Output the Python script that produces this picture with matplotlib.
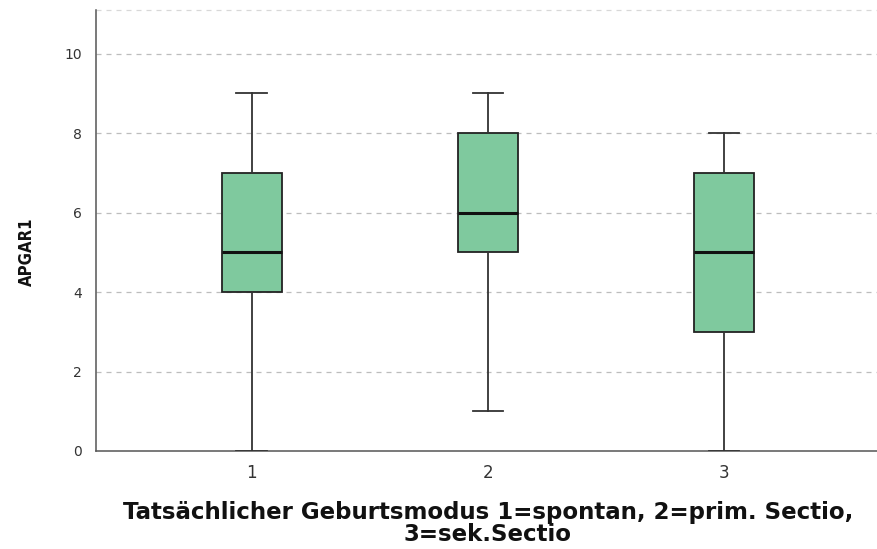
import matplotlib
matplotlib.use("Agg")
import matplotlib.pyplot as plt

# Apgar score (1 min) by delivery mode
groups = ["1", "2", "3"]
whislo = [0, 1, 0]
q1 = [4, 5, 3]
med = [5, 6, 5]
q3 = [7, 8, 7]
whishi = [9, 9, 8]
y_ticks = [0, 2, 4, 6, 8, 10]

plt.rcParams["font.family"] = ["Liberation Sans", "DejaVu Sans"]

fig = plt.figure(figsize=(8.78, 5.49), dpi=100)
ax = fig.add_axes([96 / 878, 98 / 549, 1 - 96 / 878 + 0.002, 441 / 549])

stats = [
    dict(label=g, whislo=lo, q1=a, med=m, q3=b, whishi=hi, fliers=[])
    for g, lo, a, m, b, hi in zip(groups, whislo, q1, med, q3, whishi)
]
positions = [1, 2, 3]
ax.bxp(
    stats,
    positions=positions,
    widths=0.254,
    patch_artist=True,
    showfliers=False,
    boxprops=dict(facecolor="#7fc99e", edgecolor="#222222", linewidth=1.3),
    medianprops=dict(color="#111111", linewidth=2.2),
    whiskerprops=dict(color="#333333", linewidth=1.3),
    capprops=dict(color="#333333", linewidth=1.3),
    capwidths=0.13,
    zorder=3,
)

ax.set_xlim(0.34, 3.66)
ax.set_ylim(0, 11.1)
ax.set_yticks(y_ticks)
ax.set_yticklabels([str(t) for t in y_ticks])
ax.set_xticks(positions)
ax.set_xticklabels(groups)
ax.tick_params(axis="both", length=0, colors="#333333")
ax.tick_params(axis="x", pad=9, labelsize=12)
ax.tick_params(axis="y", pad=10, labelsize=10)
for lbl in ax.get_yticklabels() + ax.get_xticklabels():
    lbl.set_family(["DejaVu Sans"])

for t in y_ticks[1:]:
    ax.axhline(t, color="#bdbdbd", linestyle=(0, (4, 4)), linewidth=0.9, zorder=1)
ax.axhline(11.1, color="#d8d8d8", linestyle=(0, (4, 4)), linewidth=0.9, zorder=1, clip_on=False)

for s in ["top", "right"]:
    ax.spines[s].set_visible(False)
for s in ["left", "bottom"]:
    ax.spines[s].set_color("#555555")
    ax.spines[s].set_linewidth(1.1)

ax.set_ylabel("APGAR1", fontsize=12, fontweight="bold", color="#111111",
              family=["DejaVu Sans", "Liberation Sans"], fontstretch="condensed")
ax.yaxis.set_label_coords(-0.077, 0.451)
ax.set_xlabel("Tatsächlicher Geburtsmodus 1=spontan, 2=prim. Sectio,\n3=sek.Sectio",
              fontsize=16.5, fontweight="bold", labelpad=14, linespacing=0.92,
              color="#111111", family=["DejaVu Sans"])

fig.savefig("out.png", dpi=100)
